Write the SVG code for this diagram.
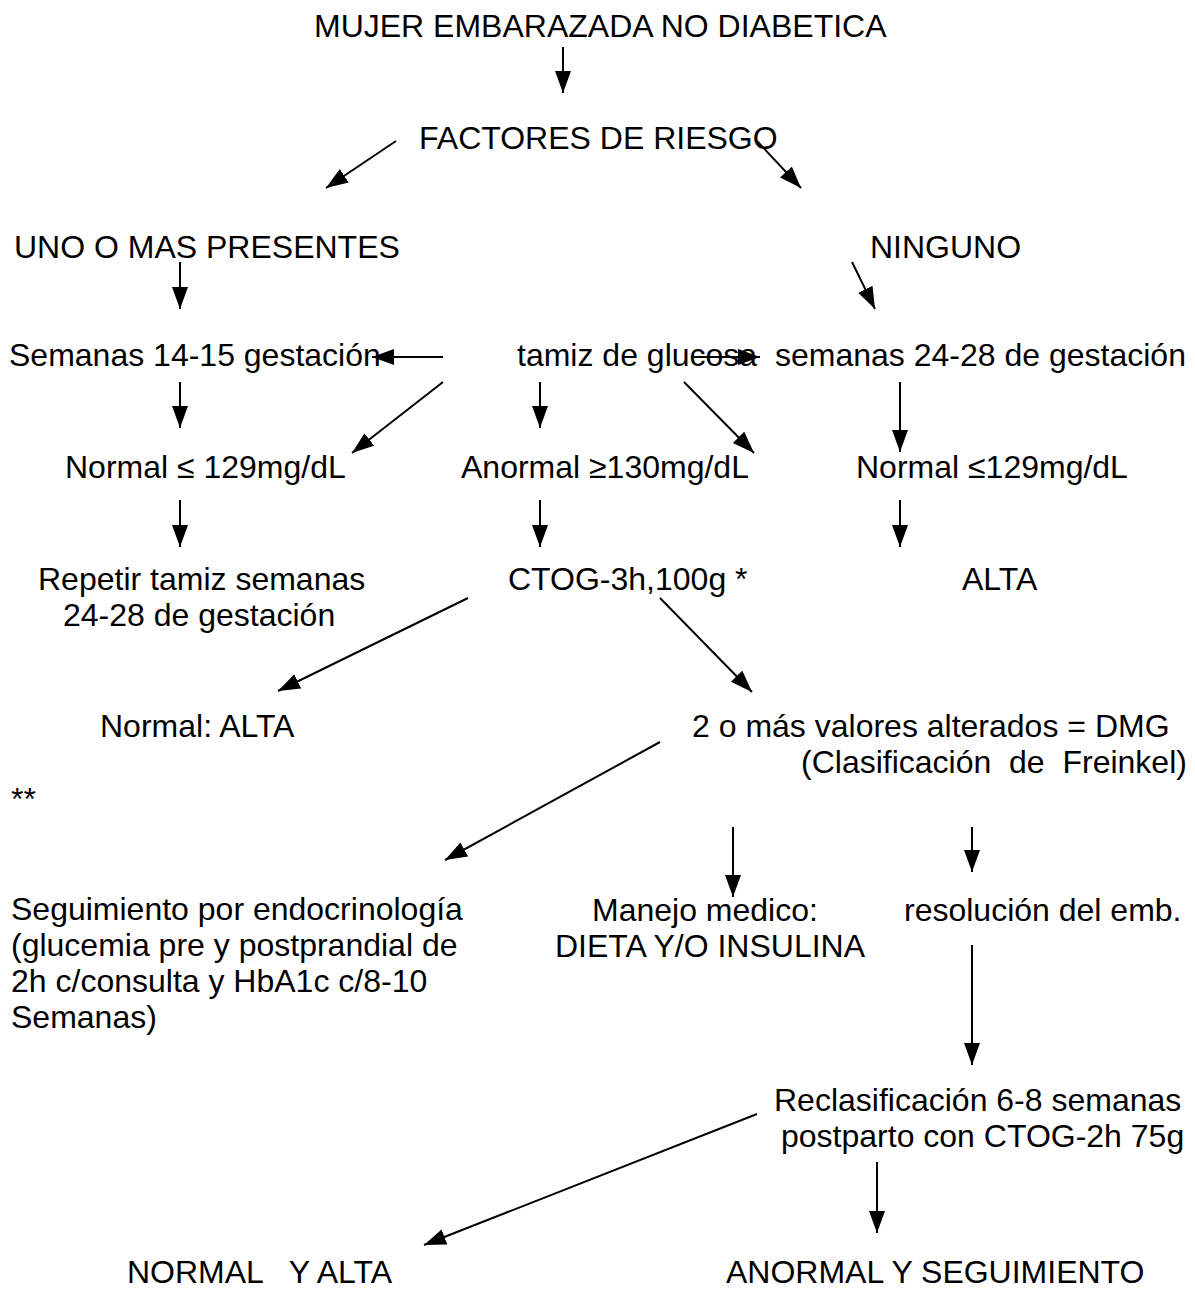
<svg xmlns="http://www.w3.org/2000/svg" width="1195" height="1291" viewBox="0 0 1195 1291">
<style>
text{font-family:"Liberation Sans",Arial,sans-serif;font-size:32px;fill:#000;white-space:pre}
.c line{stroke:#000;stroke-width:2;marker-end:url(#ah)}
</style>
<defs>
<marker id="ah" markerUnits="userSpaceOnUse" markerWidth="24" markerHeight="18" refX="22" refY="8" orient="auto" viewBox="0 0 24 18">
<path d="M0,0 L22,8 L0,16 z" fill="#000"/>
</marker>
</defs>
<rect width="1195" height="1291" fill="#fff"/>
<g id="n-mujer"><text x="314" y="37">MUJER EMBARAZADA NO DIABETICA</text></g>
<g id="n-factores"><text x="419" y="149">FACTORES DE RIESGO</text></g>
<g id="n-uno"><text x="14" y="258">UNO O MAS PRESENTES</text></g>
<g id="n-ninguno"><text x="870" y="258">NINGUNO</text></g>
<g id="n-sem1415"><text x="9" y="366">Semanas 14-15 gestación</text></g>
<g id="n-tamiz"><text x="517" y="366">tamiz de glucosa</text></g>
<g id="n-sem2428"><text x="775" y="366">semanas 24-28 de gestación</text></g>
<g id="n-normal1"><text x="65" y="478">Normal ≤ 129mg/dL</text></g>
<g id="n-anormal"><text x="461" y="478">Anormal ≥130mg/dL</text></g>
<g id="n-normal2"><text x="856" y="478">Normal ≤129mg/dL</text></g>
<g id="n-repetir"><text x="38" y="590">Repetir tamiz semanas</text><text x="63" y="626">24-28 de gestación</text></g>
<g id="n-ctog"><text x="508" y="590">CTOG-3h,100g *</text></g>
<g id="n-alta"><text x="962" y="590">ALTA</text></g>
<g id="n-normalalta"><text x="100" y="737">Normal: ALTA</text></g>
<g id="n-dmg"><text x="692" y="737">2 o más valores alterados = DMG</text><text x="801" y="773">(Clasificación  de  Freinkel)</text></g>
<g id="n-stars"><text x="11" y="810">**</text></g>
<g id="n-seguimiento"><text x="11" y="920">Seguimiento por endocrinología</text><text x="11" y="956">(glucemia pre y postprandial de</text><text x="11" y="992">2h c/consulta y HbA1c c/8-10</text><text x="11" y="1028">Semanas)</text></g>
<g id="n-manejo"><text x="592" y="921">Manejo medico:</text><text x="555" y="957">DIETA Y/O INSULINA</text></g>
<g id="n-resolucion"><text x="904" y="921">resolución del emb.</text></g>
<g id="n-reclas"><text x="774" y="1111">Reclasificación 6-8 semanas</text><text x="781" y="1147">postparto con CTOG-2h 75g</text></g>
<g id="n-normalyalta"><text x="127" y="1283">NORMAL   Y ALTA</text></g>
<g id="n-anormalseg"><text x="726" y="1283">ANORMAL Y SEGUIMIENTO</text></g>
<g id="connectors" class="c">
<line x1="563" y1="47" x2="563" y2="93"/>
<line x1="396" y1="141" x2="326" y2="188"/>
<line x1="757" y1="141" x2="801" y2="188"/>
<line x1="180" y1="262" x2="180" y2="309"/>
<line x1="852" y1="262" x2="875" y2="309"/>
<line x1="443" y1="357" x2="372" y2="357"/>
<line x1="692" y1="357" x2="760" y2="357"/>
<line x1="180" y1="382" x2="180" y2="428"/>
<line x1="443" y1="382" x2="352" y2="453"/>
<line x1="540" y1="382" x2="540" y2="428"/>
<line x1="684" y1="382" x2="754" y2="453"/>
<line x1="900" y1="382" x2="900" y2="452"/>
<line x1="180" y1="500" x2="180" y2="547"/>
<line x1="540" y1="500" x2="540" y2="547"/>
<line x1="900" y1="500" x2="900" y2="547"/>
<line x1="468" y1="598" x2="278" y2="691"/>
<line x1="660" y1="598" x2="752" y2="692"/>
<line x1="660" y1="742" x2="445" y2="860"/>
<line x1="733" y1="827" x2="733" y2="897"/>
<line x1="972" y1="827" x2="972" y2="872"/>
<line x1="972" y1="945" x2="972" y2="1065"/>
<line x1="757" y1="1114" x2="424" y2="1245"/>
<line x1="877" y1="1162" x2="877" y2="1233"/>
</g>
</svg>
